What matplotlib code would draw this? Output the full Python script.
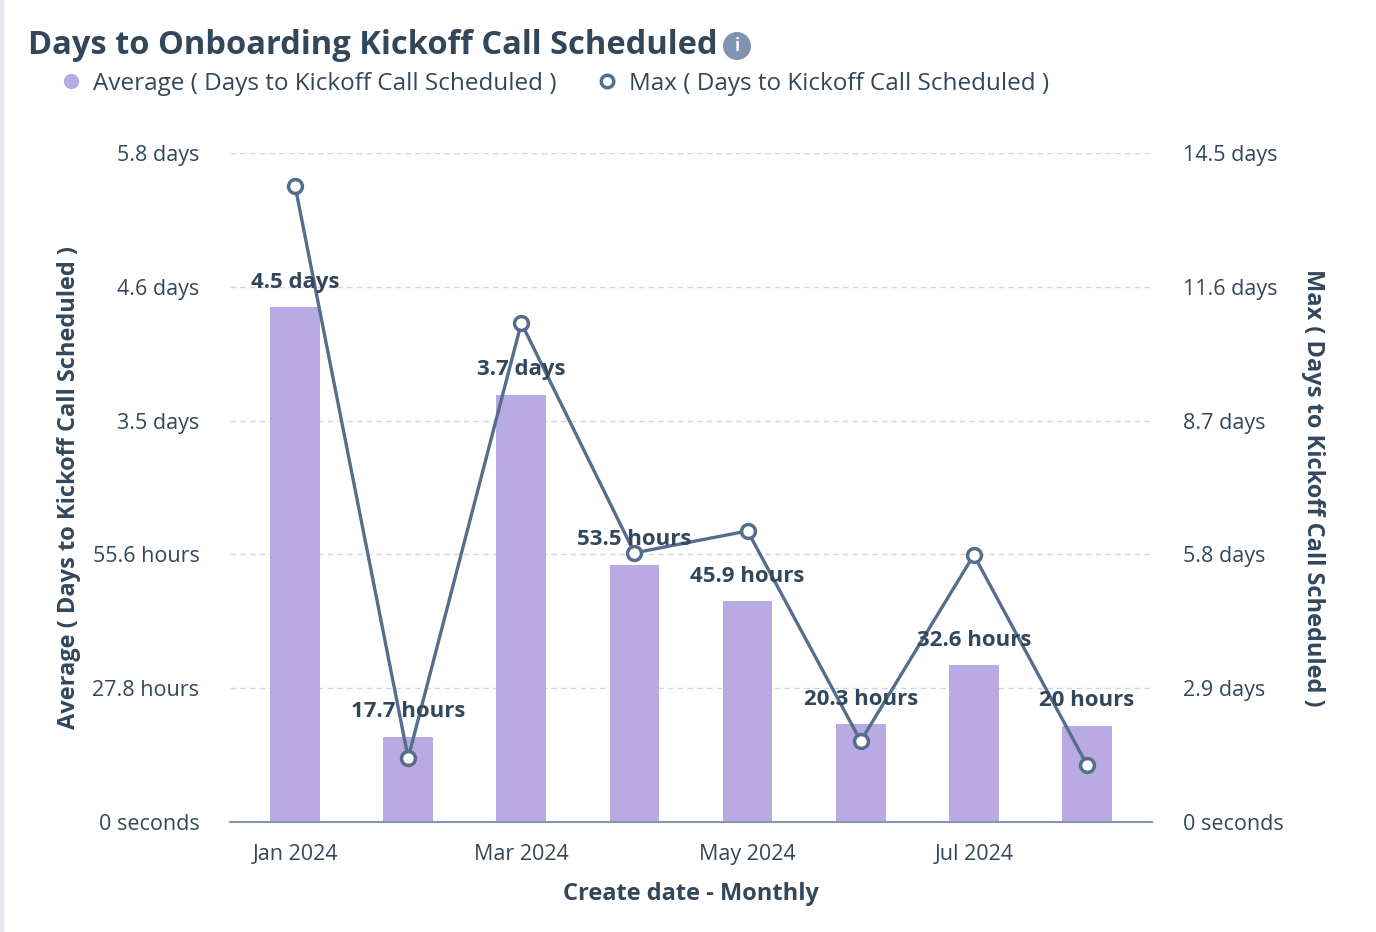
import matplotlib.pyplot as plt
from matplotlib.lines import Line2D
from matplotlib.patches import Rectangle

# data (hours)
months = ["Jan 2024", "Feb 2024", "Mar 2024", "Apr 2024", "May 2024", "Jun 2024", "Jul 2024", "Aug 2024"]
avg_hours = [107.0, 17.7, 88.8, 53.5, 45.9, 20.3, 32.6, 20.0]
avg_labels = ["4.5 days", "17.7 hours", "3.7 days", "53.5 hours", "45.9 hours", "20.3 hours", "32.6 hours", "20 hours"]
max_hours = [331.0, 33.3, 259.6, 140.0, 151.4, 42.1, 138.9, 29.7]

left_ticks = [0, 27.8, 55.6, 83.4, 111.2, 139.0]
left_ticklabels = ["0 seconds", "27.8 hours", "55.6 hours", "3.5 days", "4.6 days", "5.8 days"]
right_ticks = [0, 69.6, 139.2, 208.8, 278.4, 348.0]
right_ticklabels = ["0 seconds", "2.9 days", "5.8 days", "8.7 days", "11.6 days", "14.5 days"]

TEXT = "#33475b"
BAR = "#b9aae4"
LINE = "#566e8d"
GRID = "#cfd6e3"

plt.rcParams['font.family'] = ['Open Sans', 'DejaVu Sans']

fig = plt.figure(figsize=(13.76, 9.32), dpi=100)
fig.patches.append(Rectangle((0, 0), 0.002, 1, transform=fig.transFigure,
                             color="#e8e8ee", zorder=0))

W, H = 1376, 932
ax = fig.add_axes([230 / W, 1 - 822 / H, (1152 - 230) / W, (822 - 153) / H])
ax2 = ax.twinx()

x = list(range(len(months)))
ax.bar(x, avg_hours, width=0.44, color=BAR, zorder=2)
ax.set_xlim(-0.575, len(months) - 1 + 0.575)
ax.set_ylim(0, left_ticks[-1])
ax.set_yticks(left_ticks)
ax.set_yticklabels(left_ticklabels)
ax.set_xticks(x[::2])
ax.set_xticklabels(months[::2])

ax2.set_ylim(0, right_ticks[-1])
ax2.set_yticks(right_ticks)
ax2.set_yticklabels(right_ticklabels)
ax2.plot(x, max_hours, color=LINE, lw=2.4, marker='o', ms=10,
         mfc='white', mec=LINE, mew=2.5, zorder=3)

for a in (ax, ax2):
    for s in a.spines.values():
        s.set_visible(False)
    a.tick_params(length=0, labelsize=15.5, colors=TEXT)
ax.spines['bottom'].set_visible(True)
ax.spines['bottom'].set_color("#8198b4")
ax.spines['bottom'].set_linewidth(1.5)
ax.tick_params(axis='y', pad=22)
ax.tick_params(axis='x', pad=16)
ax2.tick_params(axis='y', pad=22)

ax.yaxis.grid(True, color=GRID, linestyle=(0, (4, 3)), lw=1)
ax.set_axisbelow(True)

# data labels on top of everything
ax2.set_zorder(ax.get_zorder() + 1)
for i, (v, lab) in enumerate(zip(avg_hours, avg_labels)):
    y2 = v * right_ticks[-1] / left_ticks[-1]
    ax2.annotate(lab, (i, y2), xytext=(0, 18), textcoords='offset points',
                 ha='center', va='center', fontsize=16, fontweight='bold',
                 color=TEXT, zorder=5)

ax.set_ylabel("Average ( Days to Kickoff Call Scheduled )", fontsize=17,
              fontweight='bold', color=TEXT, labelpad=8)
ax2.set_ylabel("Max ( Days to Kickoff Call Scheduled )", fontsize=17,
               fontweight='bold', color=TEXT, rotation=270, labelpad=30)
ax.set_xlabel("Create date - Monthly", fontsize=17, fontweight='bold',
              color=TEXT, labelpad=12)

fig.text(28 / W, 1 - 46 / H, "Days to Onboarding Kickoff Call Scheduled",
         fontsize=23.5, fontweight='bold', color=TEXT, va='center', ha='left')
fig.text(737 / W, 1 - 46 / H, "i", fontsize=12, fontweight='bold', color='white',
         va='center', ha='center',
         bbox=dict(boxstyle='circle,pad=0.3', fc="#7f94b0", ec='none'))

handles = [Line2D([], [], ls='none', marker='o', ms=10, mfc=BAR, mec=BAR),
           Line2D([], [], ls='none', marker='o', ms=9, mfc='white', mec=LINE, mew=2.5)]
fig.legend(handles, ["Average ( Days to Kickoff Call Scheduled )",
                     "Max ( Days to Kickoff Call Scheduled )"],
           loc='center left', bbox_to_anchor=(37 / W, 1 - 84 / H), ncol=2,
           frameon=False, fontsize=17.5, labelcolor=TEXT, handletextpad=0.4,
           columnspacing=1.6, handlelength=1.0)

fig.savefig("out.png", dpi=100, facecolor='white')
